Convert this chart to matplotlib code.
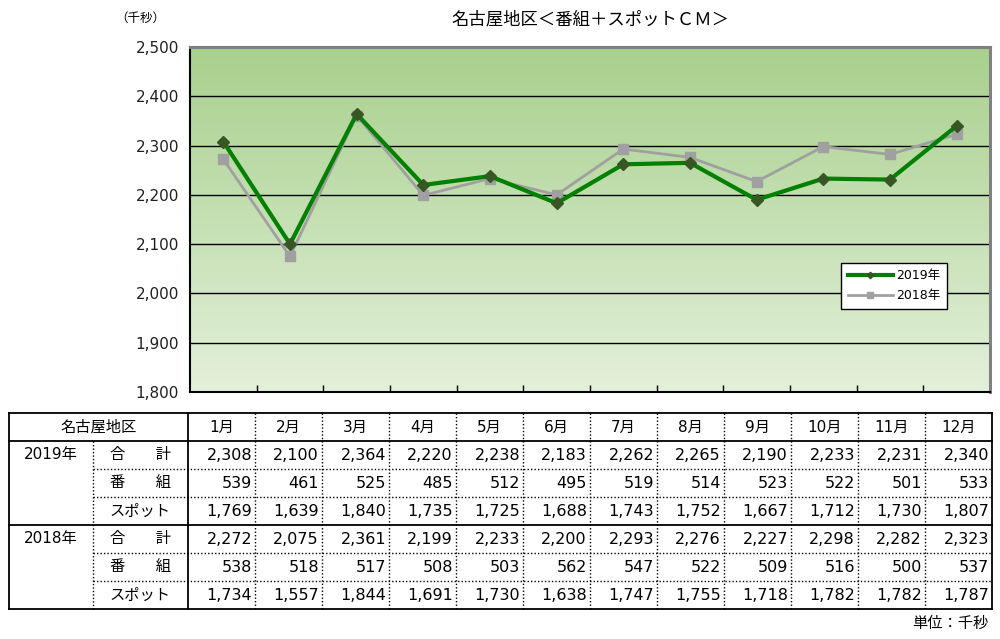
import numpy as np
import matplotlib
matplotlib.use("Agg")
import matplotlib.pyplot as plt
from matplotlib.colors import LinearSegmentedColormap

plt.rcParams['font.family'] = ['DejaVu Sans', 'Noto Sans CJK JP']
JP = ['Noto Sans CJK JP', 'DejaVu Sans']

months = ["1月", "2月", "3月", "4月", "5月", "6月", "7月", "8月", "9月", "10月", "11月", "12月"]
total_2019 = [2308, 2100, 2364, 2220, 2238, 2183, 2262, 2265, 2190, 2233, 2231, 2340]
prog_2019 = [539, 461, 525, 485, 512, 495, 519, 514, 523, 522, 501, 533]
spot_2019 = [1769, 1639, 1840, 1735, 1725, 1688, 1743, 1752, 1667, 1712, 1730, 1807]
total_2018 = [2272, 2075, 2361, 2199, 2233, 2200, 2293, 2276, 2227, 2298, 2282, 2323]
prog_2018 = [538, 518, 517, 508, 503, 562, 547, 522, 509, 516, 500, 537]
spot_2018 = [1734, 1557, 1844, 1691, 1730, 1638, 1747, 1755, 1718, 1782, 1782, 1787]
row_labels = ["合　　計", "番　　組", "スポット"]
years = ["2019年", "2018年"]

W, H = 1000, 639
fig = plt.figure(figsize=(W / 100, H / 100), dpi=100)

# ---- chart ----
L, R, T, B = 190, 990, 47, 392
ax = fig.add_axes([L / W, 1 - B / H, (R - L) / W, (B - T) / H])
x = np.arange(len(months))
ax.set_xlim(-0.5, 11.5)
ax.set_ylim(1800, 2500)

cmap = LinearSegmentedColormap.from_list("g", ["#e3f0da", "#a8d08d"])
grad = np.linspace(0, 1, 256).reshape(-1, 1)
ax.imshow(grad, cmap=cmap, aspect="auto", origin="lower",
          extent=(-0.5, 11.5, 1800, 2500), zorder=0)

for v in range(1900, 2500, 100):
    ax.axhline(v, color="black", lw=1, zorder=1)

ax.plot(x, total_2018, color="#a0a0a0", lw=2, marker="s", ms=7,
        mfc="#a0a0a0", mec="#a0a0a0", zorder=3, label="2018年")
ax.plot(x, total_2019, color="#008000", lw=3, marker="D", ms=6,
        mfc="#375623", mec="#375623", zorder=4, label="2019年")

ax.set_yticks(range(1800, 2501, 100))
ax.set_yticklabels([f"{v:,}" for v in range(1800, 2501, 100)], fontsize=11,
                   color="#202020")
ax.set_xticks(np.arange(0.5, 11, 1))
ax.set_xticklabels([])
ax.tick_params(axis="x", direction="in", length=5, width=1)
ax.tick_params(axis="y", length=0, pad=8)
for s in ["left", "bottom"]:
    ax.spines[s].set_color("black")
    ax.spines[s].set_linewidth(1.5)
for s in ["top", "right"]:
    ax.spines[s].set_color("#808080")
    ax.spines[s].set_linewidth(2.2)

h, lab = ax.get_legend_handles_labels()
leg = ax.legend(h[::-1], lab[::-1], loc="upper left", fontsize=9,
                bbox_to_anchor=(835 / W, 1 - 257 / H), bbox_transform=fig.transFigure,
                fancybox=False, framealpha=1, edgecolor="black", borderpad=0.5,
                handlelength=3.6, handletextpad=0.3, labelspacing=0.55,
                markerscale=0.55)
leg.get_frame().set_linewidth(1)

fig.text(140 / W, 1 - 18 / H, "（千秒）", fontsize=9, ha="center", va="center",
         family=JP)
fig.text(590 / W, 1 - 19 / H, "名古屋地区＜番組＋スポットＣＭ＞", fontsize=12.5,
         ha="center", va="center", family=JP)

# ---- table ----
tx = fig.add_axes([0, 0, 1, 1])
tx.set_xlim(0, W)
tx.set_ylim(H, 0)
tx.axis("off")

x0, xs, xm, cw = 9, 93, 188, 67
xr = xm + cw * 12
rows = [413 + 28 * i for i in range(8)]
solid = dict(color="black", lw=1.3)
dot = dict(color="black", lw=1, ls=(0, (1, 1.5)))

tx.plot([x0, xr], [rows[0]] * 2, **solid)
tx.plot([x0, xr], [rows[1]] * 2, **solid)
tx.plot([x0, xr], [rows[4]] * 2, **solid)
tx.plot([x0, xr], [rows[7]] * 2, **solid)
for i in (2, 3, 5, 6):
    tx.plot([xs, xr], [rows[i]] * 2, **dot)
tx.plot([x0, x0], [rows[0], rows[7]], **solid)
tx.plot([xr, xr], [rows[0], rows[7]], **solid)
tx.plot([xm, xm], [rows[0], rows[7]], **solid)
tx.plot([xs, xs], [rows[1], rows[7]], **dot)
for k in range(1, 12):
    tx.plot([xm + cw * k] * 2, [rows[0], rows[7]], **dot)

fs = 11
tx.text((x0 + xm) / 2, (rows[0] + rows[1]) / 2, "名古屋地区", fontsize=fs,
        ha="center", va="center", family=JP)
for k, m in enumerate(months):
    tx.text(xm + cw * k + cw / 2, (rows[0] + rows[1]) / 2, m, fontsize=fs,
            ha="center", va="center")

data = [[total_2019, prog_2019, spot_2019], [total_2018, prog_2018, spot_2018]]
for g, yr in enumerate(years):
    tx.text(51, (rows[1 + 3 * g] + rows[2 + 3 * g]) / 2, yr, fontsize=fs,
            ha="center", va="center")
    for r in range(3):
        yc = (rows[1 + 3 * g + r] + rows[2 + 3 * g + r]) / 2
        tx.text(140, yc, row_labels[r], fontsize=fs, ha="center", va="center",
                family=JP)
        for k, v in enumerate(data[g][r]):
            tx.text(xm + cw * (k + 1) - 3, yc, f"{v:,}", fontsize=11.5,
                    ha="right", va="center")

tx.text(988, 623, "単位：千秒", fontsize=fs, ha="right", va="center", family=JP)

fig.savefig("out.png", dpi=100)
